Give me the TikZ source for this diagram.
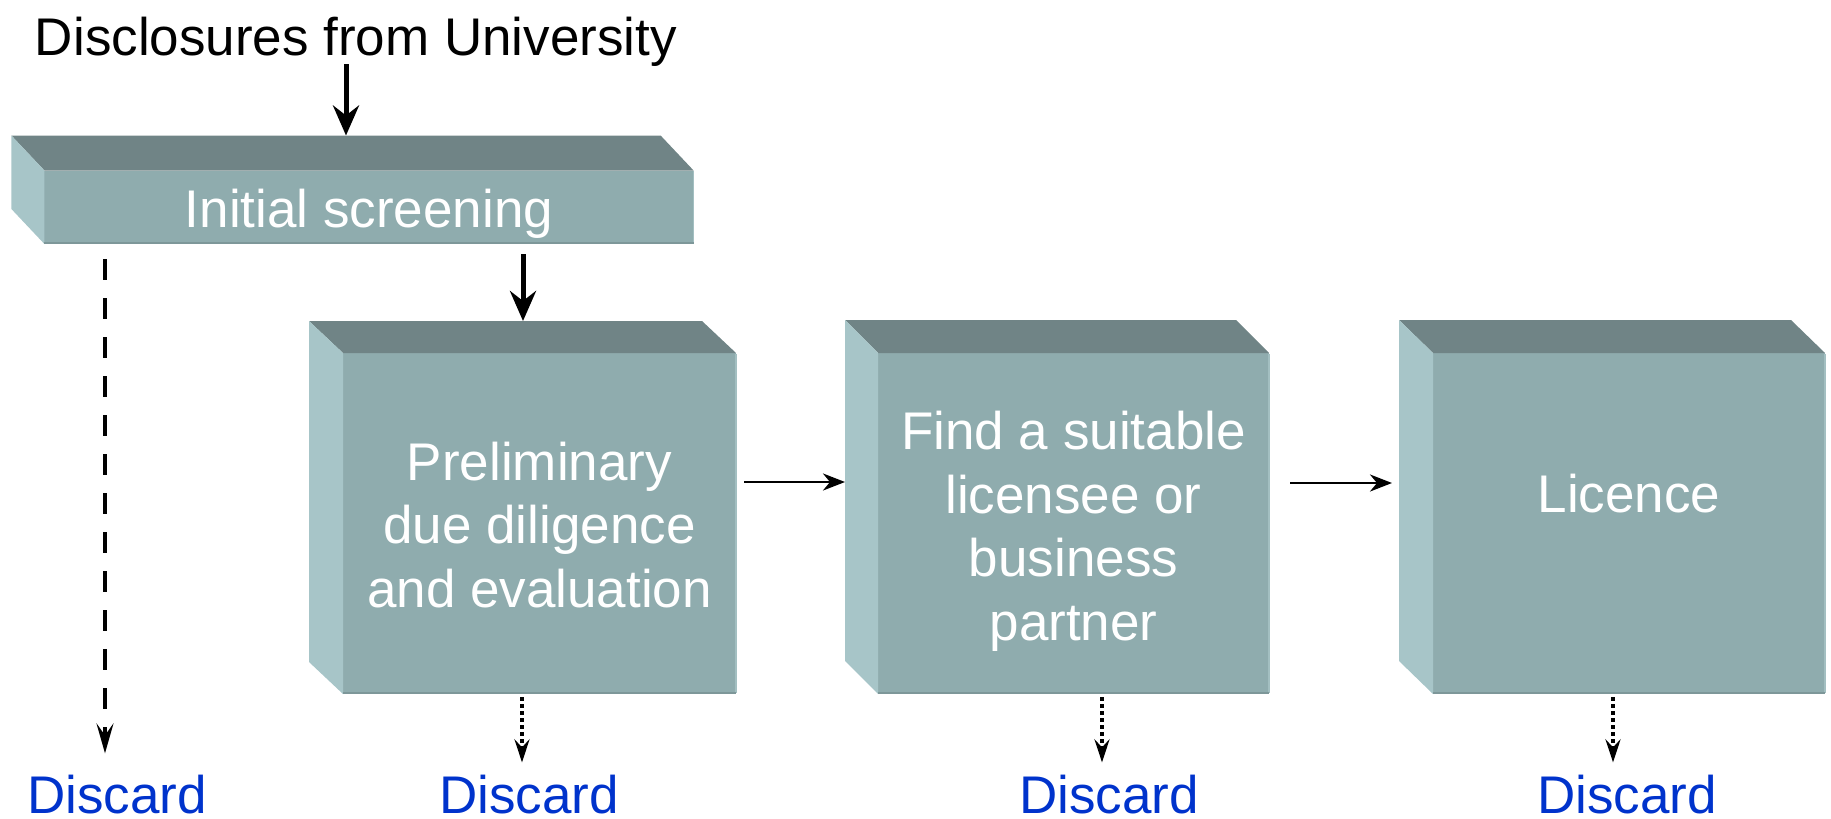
\documentclass[tikz,border=0pt]{standalone}
\usepackage{fontspec}
\setmainfont{Liberation Sans}
\usetikzlibrary{arrows.meta,calc}
\definecolor{frontc}{HTML}{8FACAE}
\definecolor{topc}{HTML}{708486}
\definecolor{sidec}{HTML}{A7C5C8}
\definecolor{edgeR}{HTML}{A3BFC1}
\definecolor{edgeB}{HTML}{7D9799}
\definecolor{discardblue}{HTML}{0033CC}

\newcommand\bevelfaces[3]{%
  \fill[topc] (#1.north west) -- ++(-#2,-#3) -- ([shift={(-#2,-#3)}]#1.north east) -- (#1.north east) -- cycle;
  \fill[sidec] (#1.north west) -- ++(-#2,-#3) -- ([shift={(-#2,-#3)}]#1.south west) -- (#1.south west) -- cycle;
  \draw[edgeR,line width=1.5pt] ([yshift=-0.75pt]#1.north east) -- ([yshift=0.75pt]#1.south east);
  \draw[edgeB,line width=2pt] ([yshift=1pt]#1.south west) -- ([yshift=1pt]#1.south east);
}

\tikzset{
  boxface/.style={rectangle, fill=frontc, inner sep=0pt, outer sep=0pt},
  boxtext/.style={text=white, font=\fontsize{53}{63.5}\selectfont, align=center, inner sep=0pt},
  titletext/.style={text=black, font=\fontsize{53}{63.5}\selectfont, inner sep=0pt, anchor=base},
  discardlabel/.style={text=discardblue, font=\fontsize{53}{63.5}\selectfont, inner sep=0pt, anchor=base},
  bigarrow/.style={line width=5pt, -{Stealth[length=30pt,width=26pt,inset=10pt]}},
  flowarrow/.style={line width=2.8pt, -{Stealth[length=22pt,width=17pt,inset=7pt]}},
  dasharrow/.style={line width=3.6pt, dash pattern=on 21pt off 18pt, -{Stealth[length=30pt,width=17pt,inset=12pt]}},
  dotarrow/.style={line width=4.5pt, dash pattern=on 3.5pt off 3.5pt, -{Stealth[length=23pt,width=15pt,inset=8pt]}}
}

\begin{document}
\begin{tikzpicture}[x=1pt,y=-1pt]
\useasboundingbox (0,0) rectangle (1831,819);

% front faces
\node[boxface, minimum width=649.2pt, minimum height=73.5pt] (b1) at (369,207.25) {};
\node[boxface, minimum width=393pt, minimum height=341pt] (b2) at (539.5,523.5) {};
\node[boxface, minimum width=391pt, minimum height=341pt] (b3) at (1073.5,523.5) {};
\node[boxface, minimum width=392pt, minimum height=341pt] (b4) at (1629,523.5) {};

\bevelfaces{b1}{33}{35}
\bevelfaces{b2}{34}{32}
\bevelfaces{b3}{33}{33}
\bevelfaces{b4}{34}{33}

% texts
\node[titletext] (title) at (356,55) {Disclosures from University};
\node[boxtext, anchor=base] (t1) at (369,227.5) {Initial screening};
\node[boxtext] (t2) at (539.5,525) {Preliminary\\due diligence\\and evaluation};
\node[boxtext] (t3) at (1073.5,531.5) {Find a suitable\\licensee or\\business\\partner};
\node[boxtext, anchor=base] (t4) at (1629,512) {Licence};

\node[discardlabel] (d1) at (117,813) {Discard};
\node[discardlabel] (d2) at (529,813) {Discard};
\node[discardlabel] (d3) at (1109,813) {Discard};
\node[discardlabel] (d4) at (1627,813) {Discard};

% main arrows
\coordinate (b1top) at ([xshift=-23pt,yshift=35pt]b1.north);
\draw[bigarrow, shorten <=-2pt] (title.south -| b1top) -- (b1top);
\coordinate (b2top) at ([xshift=-16.5pt,yshift=32pt]b2.north);
\draw[bigarrow, shorten <=10pt] (b1.south -| b2top) -- (b2top);

\coordinate (h1) at ([yshift=41.5pt]b2.east);
\draw[flowarrow, shorten <=8pt] (h1) -- ([xshift=-33pt]b3.west |- h1);
\coordinate (h2) at ([yshift=40.5pt]b3.east);
\draw[flowarrow, shorten <=21pt, shorten >=7pt] (h2) -- ([xshift=-34pt]b4.west |- h2);

% discard arrows
\coordinate (x1) at ([xshift=60.6pt]b1.south west);
\draw[dasharrow, shorten <=15pt, shorten >=21pt] (x1) -- (d1.north -| x1);
\coordinate (x2) at ([xshift=-17.5pt]b2.south);
\draw[dotarrow, shorten <=3pt, shorten >=12pt] (x2) -- (d2.north -| x2);
\coordinate (x3) at ([xshift=28.5pt]b3.south);
\draw[dotarrow, shorten <=3pt, shorten >=12pt] (x3) -- (d3.north -| x3);
\coordinate (x4) at ([xshift=-16pt]b4.south);
\draw[dotarrow, shorten <=3pt, shorten >=12pt] (x4) -- (d4.north -| x4);
\end{tikzpicture}
\end{document}
